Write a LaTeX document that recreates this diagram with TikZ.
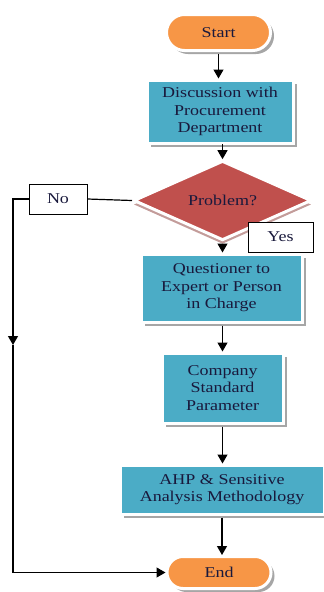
\documentclass[tikz,border=0pt]{standalone}
\usepackage{fontspec}
\newfontfamily\flowfont[FakeStretch=1.2]{Liberation Serif}
\usetikzlibrary{arrows.meta,shapes.geometric,shapes.misc,shadows}
\definecolor{termorange}{HTML}{F79646}
\definecolor{proccyan}{HTML}{4BACC6}
\definecolor{decred}{HTML}{C0504D}
\definecolor{inkblue}{RGB}{25,25,60}
\begin{document}
\begin{tikzpicture}[x=1pt, y=-1pt,
  font=\flowfont\fontsize{15}{17.5}\selectfont,
  boxshadow/.style={drop shadow={shadow xshift=3.5pt, shadow yshift=-3.5pt, fill=black!35, opacity=1}},
  term/.style={rounded rectangle, fill=termorange, draw=white, line width=3pt, boxshadow, text=inkblue, minimum width=104, minimum height=36, inner sep=0},
  proc/.style={rectangle, fill=proccyan, draw=white, line width=3pt, boxshadow, text=inkblue, align=center, inner sep=0},
  decide/.style={diamond, fill=decred, draw=white, line width=3pt, text=inkblue, inner sep=0, minimum width=178, minimum height=52,
    drop shadow={shadow xshift=0pt, shadow yshift=-4pt, fill=black!30!decred!50, opacity=1}},
  tag/.style={rectangle, draw=black, fill=white, line width=0.8pt, text=inkblue, inner sep=0},
  flow/.style={-{Triangle[length=9pt,width=10pt]}, line width=1.2pt, shorten <=2pt}]
\useasboundingbox (0,0) rectangle (324,592);
% terminals, process boxes and the decision
\node[term] (start) at (218.5,32.5) {Start};
\node[proc, minimum width=146, minimum height=63] (disc) at (220,111.5) {Discussion with\\Procurement\\Department};
\node[decide] (prob) at (222.5,200.5) {Problem?};
\node[proc, minimum width=161, minimum height=68] (quest) at (221.5,288) {Questioner to\\Expert or Person\\in Charge};
\node[proc, minimum width=121, minimum height=70] (comp) at (222.5,388) {Company\\Standard\\Parameter};
\node[proc, minimum width=204, minimum height=49] (ahp) at (222,489.5) {AHP \& Sensitive\\Analysis Methodology};
\node[term, minimum height=32] (end) at (219,572.5) {End};
% answer labels
\node[tag, minimum width=58, minimum height=30] (no) at (58,199) {No};
\node[tag, minimum width=65, minimum height=30] (yes) at (280.5,237) {Yes};
\coordinate (mid) at (13,345);
% connectors
\draw[flow] (start.south) -- (start.south |- disc.north);
\draw[flow] (disc.south) -- (disc.south -| prob.north) -- (prob.north);
\draw[flow] (prob.south) -- (prob.south |- quest.north);
\draw[flow] (quest.south -| comp.north) -- (comp.north);
\draw[flow] (comp.south) -- (comp.south |- ahp.north);
\draw[flow] (ahp.south) -- (ahp.south |- end.north);
\draw[line width=1.2pt] (prob.west) -- (no.east);
\draw[flow, shorten <=0pt] (no.west) -| (mid);
\draw[flow, shorten <=0pt] (mid) |- (end.west);
\end{tikzpicture}
\end{document}
